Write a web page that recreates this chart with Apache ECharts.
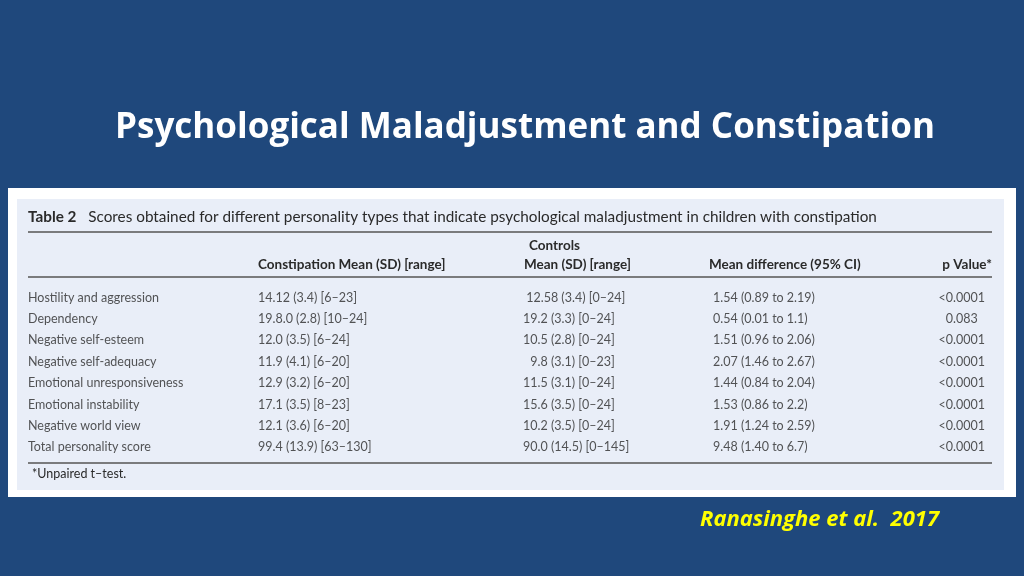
<!DOCTYPE html>
<html>
<head>
<meta charset="utf-8">
<script src="https://cdn.jsdelivr.net/npm/echarts@6/dist/echarts.min.js"></script>
<style>
  html, body { margin: 0; padding: 0; background: #1f487c; }
  #chart { width: 1024px; height: 576px; }
</style>
</head>
<body>
<div id="chart"></div>
<script>
// table content
const rowNames = [
  'Hostility and aggression',
  'Dependency',
  'Negative self-esteem',
  'Negative self-adequacy',
  'Emotional unresponsiveness',
  'Emotional instability',
  'Negative world view',
  'Total personality score'
];
const constipation = [
  '14.12 (3.4) [6\u201323]',
  '19.8.0 (2.8) [10\u201324]',
  '12.0 (3.5) [6\u201324]',
  '11.9 (4.1) [6\u201320]',
  '12.9 (3.2) [6\u201320]',
  '17.1 (3.5) [8\u201323]',
  '12.1 (3.6) [6\u201320]',
  '99.4 (13.9) [63\u2013130]'
];
const controls = [
  ' 12.58 (3.4) [0\u201324]',
  '19.2 (3.3) [0\u201324]',
  '10.5 (2.8) [0\u201324]',
  '\u20079.8 (3.1) [0\u201323]',
  '11.5 (3.1) [0\u201324]',
  '15.6 (3.5) [0\u201324]',
  '10.2 (3.5) [0\u201324]',
  '90.0 (14.5) [0\u2013145]'
];
const meanDiff = [
  '1.54 (0.89 to 2.19)',
  '0.54 (0.01 to 1.1)',
  '1.51 (0.96 to 2.06)',
  '2.07 (1.46 to 2.67)',
  '1.44 (0.84 to 2.04)',
  '1.53 (0.86 to 2.2)',
  '1.91 (1.24 to 2.59)',
  '9.48 (1.40 to 6.7)'
];
const pValues = [
  '<0.0001', '0.083\u2007', '<0.0001', '<0.0001',
  '<0.0001', '<0.0001', '<0.0001', '<0.0001'
];

const FONT = 'Lato';
const SLIDE_FONT = '"Open Sans"';
const INK = '#2a2a2a';

const chart = echarts.init(document.getElementById('chart'));

// one text column = one invisible scatter series
function column(texts, x, align) {
  return {
    type: 'scatter',
    symbolSize: 0,
    silent: true,
    data: texts.map((t, i) => [x, rowNames[i]]),
    label: {
      show: true,
      position: align === 'right' ? 'left' : 'right',
      distance: 0,
      color: INK,
      fontFamily: FONT,
      fontSize: 12.5,
      formatter: p => texts[p.dataIndex]
    }
  };
}

const option = {
  backgroundColor: '#1f487c',
  animation: false,
  grid: { left: 0, right: 0, top: 287, bottom: 118 },
  xAxis: { type: 'value', min: 0, max: 1024, show: false },
  yAxis: { type: 'category', data: rowNames, inverse: true, show: false },
  graphic: [
    // slide title
    { type: 'text', x: 525, y: 128, style: {
        text: 'Psychological Maladjustment and Constipation',
        fill: '#ffffff', font: 'bold 35px ' + SLIDE_FONT,
        textAlign: 'center', textVerticalAlign: 'middle' } },
    // table panels
    { type: 'rect', shape: { x: 8, y: 188, width: 1008, height: 309 }, style: { fill: '#ffffff' } },
    { type: 'rect', shape: { x: 17, y: 199, width: 987, height: 291 }, style: { fill: '#e9eef8' } },
    // caption
    { type: 'text', x: 28, y: 217, style: {
        text: '{b|Table 2}   Scores obtained for different personality types that indicate psychological maladjustment in children with constipation',
        fill: INK, font: '15.3px ' + FONT, textVerticalAlign: 'middle',
        rich: { b: { fontFamily: FONT, fontSize: 15.3, fontWeight: 'bold', fill: INK } } } },
    { type: 'line', shape: { x1: 28, y1: 232, x2: 992, y2: 232 }, style: { stroke: '#555', lineWidth: 1.5 } },
    // headers
    { type: 'text', x: 258, y: 265, style: { text: 'Constipation Mean (SD) [range]', fill: INK, font: 'bold 13.5px ' + FONT, textVerticalAlign: 'middle' } },
    { type: 'text', x: 529, y: 246, style: { text: 'Controls', fill: INK, font: 'bold 13.5px ' + FONT, textVerticalAlign: 'middle' } },
    { type: 'text', x: 524, y: 265, style: { text: 'Mean (SD) [range]', fill: INK, font: 'bold 13.5px ' + FONT, textVerticalAlign: 'middle' } },
    { type: 'text', x: 709, y: 265, style: { text: 'Mean difference (95% CI)', fill: INK, font: 'bold 13.5px ' + FONT, textVerticalAlign: 'middle' } },
    { type: 'text', x: 992, y: 265, style: { text: 'p Value*', fill: INK, font: 'bold 13.5px ' + FONT, textAlign: 'right', textVerticalAlign: 'middle' } },
    { type: 'line', shape: { x1: 28, y1: 277, x2: 992, y2: 277 }, style: { stroke: '#555', lineWidth: 1.5 } },
    { type: 'line', shape: { x1: 28, y1: 463, x2: 992, y2: 463 }, style: { stroke: '#555', lineWidth: 1.5 } },
    // footnote
    { type: 'text', x: 32, y: 474, style: { text: '*Unpaired t\u2013test.', fill: INK, font: '12.5px ' + FONT, textVerticalAlign: 'middle' } },
    // citation
    { type: 'text', x: 700, y: 520, style: { text: 'Ranasinghe et al.  2017', fill: '#ffff00', font: 'italic bold 22px ' + SLIDE_FONT, textVerticalAlign: 'middle' } }
  ],
  series: [
    column(rowNames, 28, 'left'),
    column(constipation, 258, 'left'),
    column(controls, 523, 'left'),
    column(meanDiff, 713, 'left'),
    column(pValues, 985, 'right')
  ]
};
chart.setOption(option);
</script>
</body>
</html>
